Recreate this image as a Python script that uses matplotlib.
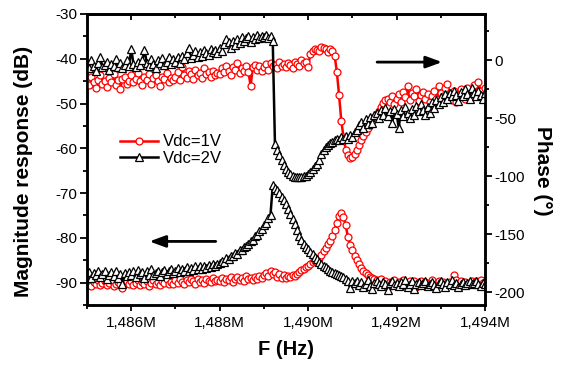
import numpy as np
import matplotlib
matplotlib.use("Agg")
import matplotlib.pyplot as plt
from matplotlib.ticker import MultipleLocator, FuncFormatter

plt.rcParams['font.family'] = ['Liberation Sans', 'DejaVu Sans']
plt.rcParams['axes.unicode_minus'] = False

# ---- data (frequency sweep 1485 .. 1494 MHz) ----
f_start, f_stop = 1485.0, 1494.0

# magnitude, Vdc = 1V (dB)
mag_1v = [
    -90.4, -89.6, -90.8, -89.9, -90.3, -89.5, -90.6, -90.1, -89.7, -90.5,
    -90.0, -89.4, -90.7, -90.2, -89.8, -90.4, -91.3, -90.0, -89.6, -90.3,
    -89.7, -90.5, -90.1, -89.5, -90.6, -89.9, -90.3, -89.6, -90.8, -90.0,
    -89.4, -90.2, -89.8, -90.5, -89.6, -90.1, -89.3, -90.4, -89.9, -90.2,
    -89.5, -90.1, -89.2, -89.8, -90.3, -89.4, -89.9, -89.1, -89.7, -90.2,
    -89.3, -89.8, -89.5, -90.0, -89.2, -89.6, -89.9, -89.0, -89.7, -89.4,
    -89.6, -88.9, -89.8, -89.1, -89.5, -88.7, -89.9, -89.2, -88.8, -89.4,
    -89.0, -89.6, -88.6, -89.3, -88.9, -89.5, -88.8, -89.1, -88.5, -89.0,
    -88.4, -87.8, -88.6, -87.4, -88.1, -87.6, -88.7, -88.0, -88.9, -88.3,
    -89.0, -88.5, -88.8, -88.2, -88.6, -88.0,
    -87.6, -87.2, -86.9, -86.5, -86.2, -85.8, -85.5, -85.1, -84.9, -84.4,
    -83.8, -83.0, -82.2, -81.4, -80.6, -79.6, -78.2, -76.6, -75.2, -74.4,
    -75.4, -77.2, -79.8, -81.6, -82.8, -84.0, -85.0, -85.9, -86.7, -87.3,
    -87.8, -88.3, -88.7, -89.0, -89.2,
    -89.5, -89.9, -89.3, -90.2, -89.6, -90.5, -89.8, -90.1, -89.4, -90.6,
    -89.9, -90.3, -89.5, -90.8, -90.0, -89.6, -90.4, -89.7, -90.9, -90.1,
    -89.6, -90.3, -89.8, -90.6, -90.0, -89.5, -90.7, -90.2, -89.7, -90.4,
    -89.9, -90.6, -90.1, -89.8, -90.5, -88.2, -89.4, -90.2, -89.6, -90.4,
    -89.8, -90.5, -90.0, -89.6, -90.3, -89.7, -90.1, -89.5, -90.0, -89.8,
]

# magnitude, Vdc = 2V (dB)
mag_2v = [
    -88.5, -87.6, -88.9, -87.9, -88.4, -87.3, -88.8, -88.0, -87.5, -89.1,
    -88.2, -87.7, -88.6, -87.4, -88.9, -88.1, -90.3, -87.8, -88.5, -87.6,
    -88.3, -87.5, -88.7, -87.2, -88.0, -87.6, -88.9, -87.4, -88.2, -87.0,
    -88.4, -87.8, -87.3, -88.6, -87.7, -87.1, -88.1, -87.5, -86.9, -87.9,
    -87.4, -86.8, -87.6, -86.9, -87.3, -86.5, -87.5, -86.7, -87.1, -86.3,
    -86.9, -86.4, -87.0, -86.2, -86.7, -86.0, -86.5, -85.9, -86.3, -85.8,
    -85.7, -85.2, -85.3, -84.6, -84.7, -84.0, -84.1, -83.4, -83.5, -82.7,
    -82.8, -82.0, -81.9, -81.3, -80.8, -80.5, -79.7, -79.3, -78.5, -78.1,
    -77.2, -76.6, -75.5, -74.8,
    -68.3, -68.9, -69.4, -70.0, -70.8, -71.6, -72.5, -73.5, -74.6, -75.7,
    -77.0, -78.2, -79.5, -80.5, -81.3, -82.0, -82.6, -83.2, -83.7, -84.2,
    -84.7, -85.3, -85.8, -86.2, -86.6, -86.9, -87.3, -87.6, -87.8, -88.1,
    -88.3, -88.6, -88.8, -89.1, -89.7, -91.2, -89.6,
    -90.1, -89.6, -90.5, -89.8, -90.9, -90.2, -89.5, -90.7, -91.4, -90.0,
    -89.7, -90.4, -90.8, -89.9, -90.3, -91.6, -90.1, -89.6, -90.5, -90.0,
    -90.7, -89.8, -90.3, -89.5, -90.9, -90.2, -89.7, -91.5, -90.4, -89.9,
    -90.6, -90.0, -89.6, -90.8, -90.3, -89.8, -90.5, -91.2, -90.1, -89.7,
    -90.4, -90.9, -89.9, -90.2, -89.5, -90.6, -90.0, -91.0, -90.3, -89.8,
    -90.5, -90.1, -89.7, -90.4, -90.0, -89.6, -90.3, -90.8, -90.1, -90.4,
]

# phase, Vdc = 1V (deg)
phase_1v = [
    -16, -21, -14, -19, -24, -17, -13, -20, -18, -23,
    -15, -19, -12, -21, -17, -25, -16, -14, -20, -18,
    -13, -19, -16, -11, -18, -21, -14, -17, -12, -20,
    -15, -13, -18, -22, -14, -16, -11, -19, -15, -17,
    -14, -10, -17, -6, -13, -15, -9, -12, -16, -8,
    -13, -11, -15, -7, -12, -10, -14, -9, -13, -11,
    -12, -7, -10, -5, -9, -13, -6, -8, -2, -11,
    -7, -9, -5, -10, -22, -6, -4, -8, -5, -9,
    -6, -3, -8, -2, -5, -4, -7, -1, -5, -3,
    -6, -2, -4, -7, -1, -3, -5, 0, -2,
    -1, -5.5, 5.5, 8.5, 10, 9, 8.5, 11.4, 10.5, 9.5,
    7.5, 10, 8, 4, -10, -30, -52, -66, -77, -81.5,
    -84, -83, -80.5, -77.5, -73, -69, -65, -62, -58, -55.5,
    -52, -48.5, -46, -44, -40.5, -37, -34.5, -33,
    -36, -31, -38, -33, -29, -36, -27, -32, -22, -34,
    -28, -31, -25, -35, -30, -27, -33, -29, -36, -31,
    -26, -33, -22, -28, -31, -24, -20, -29, -34, -26,
    -36, -30, -25, -28, -33, -24, -29, -27, -21, -30,
    -19, -26, -31, -24,
]

# phase, Vdc = 2V (deg)
phase_2v = [
    -3, -7, 0, -5, -9, -2, 3, -6, -4, -1,
    -8, -3, -5, 1, -6, -2, -7, -4, 0, -5,
    10, -3, -6, -1, -4, 0, 9, -2, -5, 1,
    -3, -7, 0, -2, 2, -4, -1, 3, -3, 1,
    -1, 3, -2, 4, 1, 6, 11, 2, 5, 8,
    3, 7, 4, 9, 6, 5, 10, 7, 9, 6,
    11, 8, 14, 18, 16, 11, 17, 13, 18, 15,
    20, 17, 19, 21, 16, 20, 18, 22, 19, 21,
    20, 22, 19, 21, 17,
    -72, -77, -82, -86, -90, -93.5, -96, -98, -100, -101,
    -101, -100.5, -101, -100, -99.5, -98, -96.5, -94, -91.5, -89,
    -86, -81, -77.5, -75, -73, -71.5, -70, -68.5, -67.5, -69,
    -66, -67.5, -65, -68, -64, -66, -62, -60, -56, -53,
    -58, -51, -55, -49, -54, -47, -45, -50, -43, -47,
    -41, -48,
    -44, -54, -42, -46, -58, -43, -48, -40, -45, -50,
    -42, -47, -39, -44, -38, -43, -47, -40, -45, -36,
    -41, -34, -38, -32, -36, -29, -33, -28, -31, -26,
    -30, -35, -27, -31, -25, -29, -33, -24, -28, -31,
    -26, -30, -33, -28,
]

labels = ['Vdc=1V', 'Vdc=2V']
x_major_ticks = [1486, 1488, 1490, 1492, 1494]
mag_ticks = [-90, -80, -70, -60, -50, -40, -30]
phase_ticks = [-200, -150, -100, -50, 0]


def freq(vals):
    return np.linspace(f_start, f_stop, len(vals))


fig = plt.figure(figsize=(5.65, 3.65), dpi=100)
ax = fig.add_axes([0.154, 0.1644, 0.7044, 0.7973])
ax2 = ax.twinx()

red_kw = dict(color='red', lw=1.8, marker='o', ms=5, mfc='white', mec='red', mew=0.9)
blk_kw = dict(color='black', lw=1.8, marker='^', ms=6, mfc='white', mec='black', mew=0.9)

l1, = ax.plot(freq(mag_1v), mag_1v, **red_kw)
l2, = ax.plot(freq(mag_2v), mag_2v, **blk_kw)
ax2.plot(freq(phase_1v), phase_1v, **red_kw)
ax2.plot(freq(phase_2v), phase_2v, **blk_kw)

ax.set_xlim(1485, 1494)
ax.set_ylim(-95, -30)
ax2.set_ylim(-211, 40)

ax.set_xticks(x_major_ticks)
ax.xaxis.set_minor_locator(MultipleLocator(1))
ax.xaxis.set_major_formatter(FuncFormatter(lambda v, p: f"{v:,.0f}M"))
ax.set_yticks(mag_ticks)
ax.yaxis.set_minor_locator(MultipleLocator(5))
ax2.set_yticks(phase_ticks)
ax2.yaxis.set_minor_locator(MultipleLocator(25))

tw = 1.3
ax.tick_params(axis='y', which='major', direction='out', length=5, width=tw, labelsize=11, pad=2)
ax.tick_params(axis='y', which='minor', direction='out', length=3, width=tw)
ax.tick_params(axis='x', which='major', direction='out', length=4.5, width=tw, labelsize=11, pad=3.5)
ax.tick_params(axis='x', which='minor', direction='out', length=3, width=tw)
ax.tick_params(top=False, right=False)
ax2.tick_params(axis='y', which='major', direction='out', length=5, width=tw, labelsize=11, pad=2)
ax2.tick_params(axis='y', which='minor', direction='out', length=3, width=tw)

sec = ax.secondary_xaxis('top')
sec.set_xticks(x_major_ticks)
sec.xaxis.set_minor_locator(MultipleLocator(1))
sec.tick_params(axis='x', which='major', direction='in', length=4.5, width=tw, labeltop=False)
sec.tick_params(axis='x', which='minor', direction='in', length=3, width=tw)

for a in (ax, ax2):
    for s in a.spines.values():
        s.set_linewidth(1.8)
for s in sec.spines.values():
    s.set_linewidth(1.8)

ax.set_ylabel('Magnitude response (dB)', fontsize=15, fontweight='bold')
ax.yaxis.set_label_coords(-0.136, 0.46)
ax2.set_ylabel('Phase (°)', fontsize=15, fontweight='bold', rotation=270, va='bottom')
ax2.yaxis.set_label_coords(1.12, 0.46)
ax.set_xlabel('F (Hz)', fontsize=14.5, fontweight='bold')
ax.xaxis.set_label_coords(0.5, -0.119)

arrow_kw = dict(arrowstyle='-|>,head_length=0.6,head_width=0.22', lw=2, color='black',
                mutation_scale=16, shrinkA=0, shrinkB=0)
ax.annotate('', xy=(1486.41, -80.8), xytext=(1487.91, -80.8), arrowprops=arrow_kw)
ax.annotate('', xy=(1493.03, -40.75), xytext=(1491.56, -40.75), arrowprops=arrow_kw)

ax2.legend(handles=[l1, l2], labels=labels, loc='upper left', bbox_to_anchor=(0.083, 0.586),
           frameon=False, fontsize=12, handlelength=2.28, handletextpad=0.3,
           labelspacing=0.1, borderpad=0, borderaxespad=0, numpoints=1)

fig.savefig('out.png', dpi=100)
